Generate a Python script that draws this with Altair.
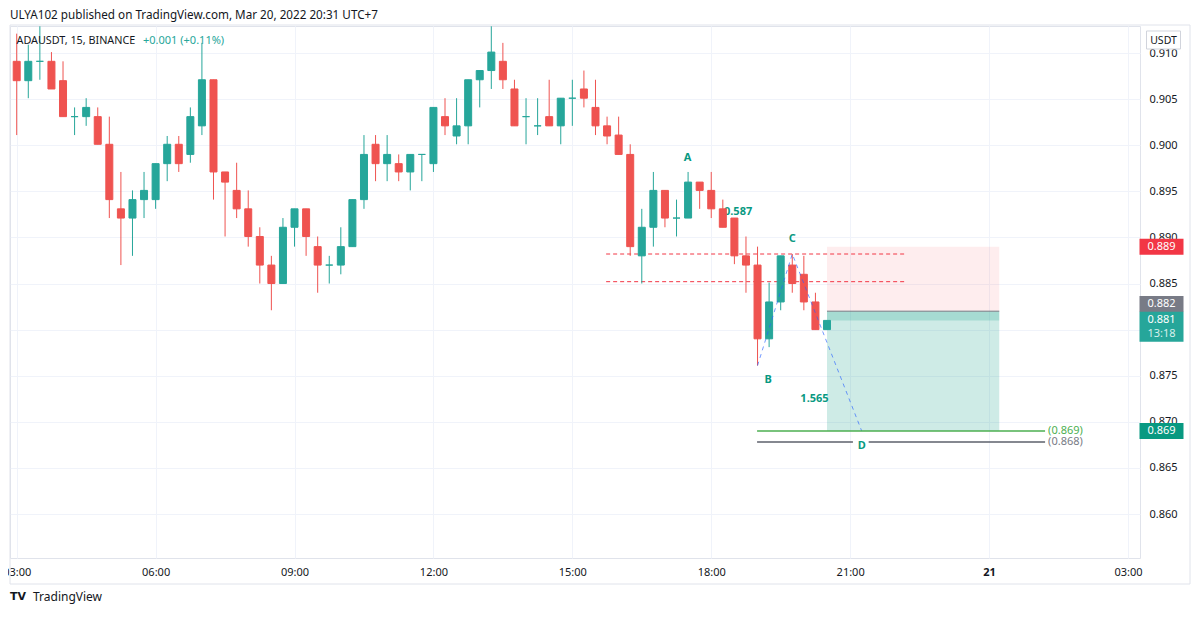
import altair as alt
import pandas as pd

# ---------------- candles (ADAUSDT, 15m, Mar 20 2022, from 03:00) ----------------
opens = [0.9091, 0.9070, 0.9091, 0.9091, 0.9070, 0.9031, 0.9031, 0.9031, 0.9001, 0.8931,
         0.8921, 0.8941, 0.8941, 0.8980, 0.9001, 0.8990, 0.9021, 0.9071, 0.8971, 0.8951,
         0.8931, 0.8901, 0.8870, 0.8850, 0.8911, 0.8931, 0.8890, 0.8870, 0.8870, 0.8890,
         0.8941, 0.9001, 0.8980, 0.8980, 0.8971, 0.8990, 0.8980, 0.9031, 0.9010, 0.9021,
         0.9071, 0.9081, 0.9091, 0.9061, 0.9031, 0.9021, 0.9031, 0.9021, 0.9051, 0.9061,
         0.9041, 0.9021, 0.9011, 0.8990, 0.8880, 0.8911, 0.8951, 0.8921, 0.8921, 0.8960,
         0.8951, 0.8931, 0.8921, 0.8880, 0.8870, 0.8790, 0.8830, 0.8870, 0.8860, 0.8830,
         0.8800]
highs = [0.9121, 0.9109, 0.9129, 0.9101, 0.9091, 0.9041, 0.9051, 0.9041, 0.9031, 0.8971,
         0.8951, 0.8971, 0.8980, 0.9010, 0.9010, 0.9041, 0.9111, 0.9071, 0.8971, 0.8981,
         0.8951, 0.8911, 0.8880, 0.8921, 0.8931, 0.8931, 0.8901, 0.8880, 0.8911, 0.8941,
         0.9011, 0.9011, 0.9011, 0.8990, 0.8990, 0.8990, 0.9041, 0.9051, 0.9051, 0.9071,
         0.9081, 0.9129, 0.9111, 0.9071, 0.9051, 0.9051, 0.9071, 0.9051, 0.9071, 0.9081,
         0.9071, 0.9031, 0.9031, 0.9001, 0.8931, 0.8971, 0.8951, 0.8941, 0.8971, 0.8960,
         0.8971, 0.8941, 0.8921, 0.8901, 0.8890, 0.8851, 0.8880, 0.8882, 0.8880, 0.8840,
         0.8810]
lows = [0.9011, 0.9051, 0.9071, 0.9061, 0.9031, 0.9011, 0.9021, 0.9001, 0.8921, 0.8870,
        0.8880, 0.8921, 0.8931, 0.8961, 0.8971, 0.8981, 0.9011, 0.8941, 0.8901, 0.8921,
        0.8890, 0.8850, 0.8821, 0.8850, 0.8890, 0.8880, 0.8840, 0.8850, 0.8860, 0.8890,
        0.8931, 0.8961, 0.8961, 0.8961, 0.8951, 0.8961, 0.8971, 0.9011, 0.9001, 0.9001,
        0.9041, 0.9061, 0.9061, 0.9021, 0.9001, 0.9011, 0.9021, 0.9001, 0.9021, 0.9041,
        0.9011, 0.9001, 0.8990, 0.8880, 0.8850, 0.8890, 0.8911, 0.8901, 0.8921, 0.8931,
        0.8921, 0.8911, 0.8871, 0.8840, 0.8761, 0.8781, 0.8821, 0.8840, 0.8821, 0.8800,
        0.8800]
closes = [0.9070, 0.9091, 0.9091, 0.9061, 0.9031, 0.9031, 0.9041, 0.9001, 0.8941, 0.8921,
          0.8941, 0.8951, 0.8980, 0.9001, 0.8980, 0.9031, 0.9071, 0.8971, 0.8960, 0.8931,
          0.8901, 0.8870, 0.8850, 0.8911, 0.8931, 0.8901, 0.8870, 0.8870, 0.8890, 0.8941,
          0.8990, 0.8980, 0.8990, 0.8971, 0.8990, 0.8990, 0.9041, 0.9021, 0.9021, 0.9071,
          0.9081, 0.9101, 0.9071, 0.9021, 0.9031, 0.9021, 0.9021, 0.9051, 0.9051, 0.9051,
          0.9021, 0.9010, 0.8990, 0.8890, 0.8911, 0.8951, 0.8921, 0.8921, 0.8960, 0.8951,
          0.8931, 0.8911, 0.8880, 0.8870, 0.8790, 0.8830, 0.8880, 0.8850, 0.8830, 0.8800,
          0.8810]
first_bar_hour = 3.0   # 03:00
bar_hours = 0.25       # 15-minute candles

# ---------------- axes ----------------
time_ticks = [3, 6, 9, 12, 15, 18, 21, 24, 27]     # hours since Mar 20 00:00
price_ticks = [0.860, 0.865, 0.870, 0.875, 0.880, 0.885, 0.890, 0.895, 0.900, 0.905, 0.910]
x_domain = [2.855, 27.26]
y_domain = [0.85523, 0.91293]

# ---------------- drawings ----------------
pos_start, pos_end = [20.5], [24.22]
pos_entry, pos_stop, pos_target, pos_current = [0.882], [0.889], [0.869], [0.881]

lvl_prices = [0.8882, 0.8852]
lvl_start, lvl_end = [15.73, 15.73], [22.23, 22.23]

green_line_price, green_line_start, green_line_end = [0.869], [18.99], [25.21]
gray_line_price = [0.8678, 0.8678]
gray_line_start, gray_line_end = [18.99, 21.40], [21.06, 25.21]
line_labels = ["(0.869)", "(0.868)"]
line_label_prices = [0.869, 0.8678]
line_label_t = [25.275, 25.275]

pattern_t = [19.0, 19.75, 21.25]
pattern_p = [0.8761, 0.8882, 0.869]

pat_labels = ["A", "0.587", "C", "B", "1.565", "D"]
pat_label_t = [17.49, 18.58, 19.75, 19.23, 20.23, 21.25]
pat_label_p = [0.8986, 0.8928, 0.8898, 0.8745, 0.8725, 0.8674]

# ---------------- styling ----------------
FONT = "Noto Sans"
GREEN = "#26a69a"
RED = "#ef5350"
TEXT = "#131722"
GRID = "#f0f3fa"
FRAME = "#e0e3eb"

df = pd.DataFrame({
    "t": [first_bar_hour + bar_hours * i for i in range(len(opens))],
    "open": opens, "high": highs, "low": lows, "close": closes,
})
df["dir"] = ["up" if c >= o else "down" for o, c in zip(opens, closes)]

x_scale = alt.Scale(domain=x_domain, nice=False, zero=False, padding=0)
y_scale = alt.Scale(domain=y_domain, nice=False, zero=False, padding=0)

x_axis = alt.Axis(
    values=time_ticks, title=None, grid=True, gridColor=GRID, ticks=False, domain=False,
    labelPadding=8, labelFontSize=11, labelColor=TEXT, labelFont=FONT,
    labelOverlap=False, labelFlush=False,
    labelExpr="datum.value == 24 ? '21' : ((datum.value % 24) < 10 ? '0' : '') + (datum.value % 24) + ':00'",
    labelFontWeight={"condition": {"test": "datum.value == 24", "value": "bold"}, "value": "normal"},
)
y_axis = alt.Axis(
    orient="right", values=price_ticks, format=".3f", title=None, grid=True, gridColor=GRID,
    ticks=False, domain=False, labelPadding=9, labelFontSize=11, labelColor=TEXT,
    labelFont=FONT, labelOverlap=False, labelFlush=False,
)


def X(f):
    return alt.X(f, type="quantitative", scale=x_scale, axis=x_axis)


def Y(f):
    return alt.Y(f, type="quantitative", scale=y_scale, axis=y_axis)


dir_scale = alt.Scale(domain=["up", "down"], range=[GREEN, RED])

base = alt.Chart(df)
wicks = base.mark_rule(strokeWidth=1).encode(
    x=X("t"), y=Y("low"), y2="high",
    color=alt.Color("dir:N", scale=dir_scale, legend=None),
)
bodies = base.mark_bar(size=7, strokeWidth=1).encode(
    x=X("t"), y=Y("open"), y2="close",
    color=alt.Color("dir:N", scale=dir_scale, legend=None),
    stroke=alt.Stroke("dir:N", scale=dir_scale, legend=None),
)

pos_df = pd.DataFrame({"t0": pos_start, "t1": pos_end, "entry": pos_entry, "stop": pos_stop,
                       "target": pos_target, "cur": pos_current})
pos = alt.Chart(pos_df)
stop_zone = pos.mark_rect(color="#f23645", opacity=0.09).encode(x=X("t0"), x2="t1", y=Y("entry"), y2="stop")
profit_zone = pos.mark_rect(color="#089981", opacity=0.2).encode(x=X("t0"), x2="t1", y=Y("entry"), y2="target")
run_zone = pos.mark_rect(color="#089981", opacity=0.2).encode(x=X("t0"), x2="t1", y=Y("entry"), y2="cur")
entry_line = pos.mark_rule(color="#787b86", strokeWidth=1).encode(x=X("t0"), x2="t1", y=Y("entry"))

lvl_df = pd.DataFrame({"p": lvl_prices, "t0": lvl_start, "t1": lvl_end})
levels = alt.Chart(lvl_df).mark_rule(color="#f23645", strokeWidth=1, strokeDash=[4, 3]).encode(
    x=X("t0"), x2="t1", y=Y("p"))

g_df = pd.DataFrame({"p": green_line_price, "t0": green_line_start, "t1": green_line_end})
green_line = alt.Chart(g_df).mark_rule(color="#4caf50", strokeWidth=1.5).encode(x=X("t0"), x2="t1", y=Y("p"))
k_df = pd.DataFrame({"p": gray_line_price, "t0": gray_line_start, "t1": gray_line_end})
gray_line = alt.Chart(k_df).mark_rule(color="#5d606b", strokeWidth=1.5).encode(x=X("t0"), x2="t1", y=Y("p"))

ll_df = pd.DataFrame({"t": line_label_t, "p": line_label_prices, "label": line_labels,
                      "c": ["#4caf50", "#787b86"]})
line_text = alt.Chart(ll_df).mark_text(align="left", baseline="middle", fontSize=11, font=FONT).encode(
    x=X("t"), y=Y("p"), text="label:N", color=alt.Color("c:N", scale=None))

pat_df = pd.DataFrame({"t": pattern_t, "p": pattern_p, "o": list(range(len(pattern_t)))})
pattern = alt.Chart(pat_df).mark_line(color="#2962ff", strokeWidth=1, strokeDash=[4, 4], opacity=0.65).encode(
    x=X("t"), y=Y("p"), order="o:Q")

pl_df = pd.DataFrame({"t": pat_label_t, "p": pat_label_p, "label": pat_labels})
pat_text = alt.Chart(pl_df).mark_text(fontSize=11, fontWeight="bold", font=FONT, color="#089981").encode(
    x=X("t"), y=Y("p"), text="label:N")

# ---------------- right-axis price tags ----------------
TAG_X = 1151.5


def tag(price, label, fill, top, bottom, dy=0, sub=None):
    d = pd.DataFrame({"p": [price], "label": [label], "sub": [sub or ""]})
    path = f"M-1,{top}L1,{top}L1,{bottom}L-1,{bottom}Z"
    c = alt.Chart(d)
    layers = [
        c.mark_point(shape=path, size=44 * 44, filled=True, color=fill, opacity=1, strokeWidth=0).encode(
            x=alt.value(TAG_X), y=Y("p")),
        c.mark_text(color="white", fontSize=11, font=FONT, dy=dy).encode(
            x=alt.value(TAG_X), y=Y("p"), text="label:N"),
    ]
    if sub:
        layers.append(c.mark_text(color="#d7f0ec", fontSize=11, font=FONT, dy=dy + 14).encode(
            x=alt.value(TAG_X), y=Y("p"), text="sub:N"))
    return layers


tags = []
tags += tag(0.889, "0.889", "#f23645", -0.364, 0.364)
tags += tag(0.882, "0.882", "#787b86", -0.69, 0.04, dy=-7)
tags += tag(0.881, "0.881", "#26a69a", -0.39, 0.97, dy=0, sub="13:18")
tags += tag(0.869, "0.869", "#089981", -0.364, 0.364)

# ---------------- header / footer / frame ----------------
one = alt.Chart(pd.DataFrame({"a": [0]}))
frame = one.mark_rect(fillOpacity=0, stroke=FRAME, strokeWidth=1).encode(
    x=alt.value(0), x2=alt.value(1180), y=alt.value(-1), y2=alt.value(558))
header = one.mark_text(align="left", baseline="middle", fontSize=11.7, font=FONT, color=TEXT).encode(
    x=alt.value(0), y=alt.value(-11), text=alt.value("ULYA102 published on TradingView.com, Mar 20, 2022 20:31 UTC+7"))
symbol = one.mark_text(align="left", baseline="middle", fontSize=10.8, font=FONT, color=TEXT).encode(
    x=alt.value(6.5), y=alt.value(15), text=alt.value("ADAUSDT, 15, BINANCE"))
change = one.mark_text(align="left", baseline="middle", fontSize=11, font=FONT, color=GREEN).encode(
    x=alt.value(133), y=alt.value(15), text=alt.value("+0.001 (+0.11%)"))
usdt_box = one.mark_point(shape="M-1,-0.53L1,-0.53L1,0.53L-1,0.53Z", size=34 * 34, filled=True,
                          fill="white", stroke="#d1d4dc", strokeWidth=1, opacity=1).encode(
    x=alt.value(1153.5), y=alt.value(14))
usdt_text = one.mark_text(fontSize=10.5, font=FONT, color=TEXT).encode(
    x=alt.value(1153.5), y=alt.value(14.5), text=alt.value("USDT"))
logo = one.mark_text(align="left", baseline="middle", fontSize=11, fontWeight=900, font="DejaVu Sans",
                     color=TEXT).encode(x=alt.value(0), y=alt.value(571), text=alt.value("TV"))
footer = one.mark_text(align="left", baseline="middle", fontSize=12, font=FONT, color=TEXT).encode(
    x=alt.value(23), y=alt.value(571), text=alt.value("TradingView"))

chart = alt.layer(
    stop_zone, profit_zone, run_zone, entry_line, levels, pat_text,
    wicks, bodies, pattern, green_line, gray_line, line_text,
    *tags, frame, header, symbol, change, usdt_box, usdt_text, logo, footer,
).properties(
    width=1130, height=532,
    autosize=alt.AutoSizeParams(type="none"),
    padding={"left": 2, "top": 18, "right": 51, "bottom": 46},
    background="white",
).configure_view(stroke=FRAME, strokeWidth=1)

chart.save("out.html", embed_options={"renderer": "svg", "actions": False})
